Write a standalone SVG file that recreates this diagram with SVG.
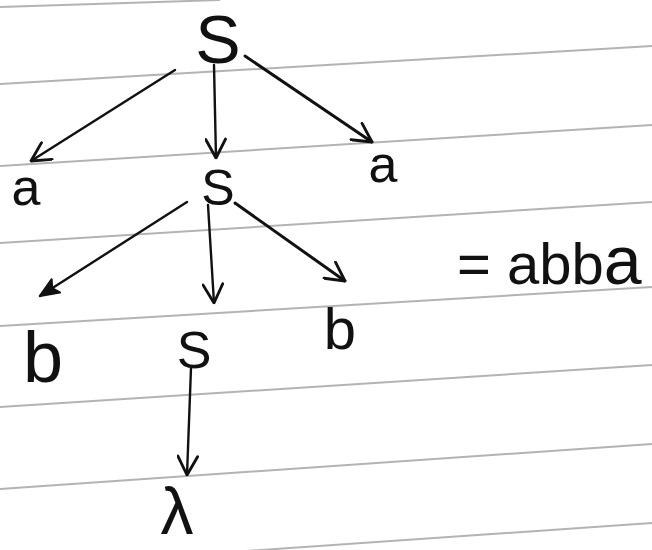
<svg xmlns="http://www.w3.org/2000/svg" width="652" height="550" viewBox="0 0 652 550">
<style>
.rule{stroke:#9a9a9a;stroke-width:2;fill:none;opacity:.75}
.edge{stroke:#111;stroke-width:2.4;fill:none;stroke-linecap:round}
.t{font-family:"Liberation Sans",Arial,sans-serif;fill:#111;text-anchor:middle}
</style>
<defs>
<marker id="open" viewBox="0 0 20 20" refX="19" refY="10" markerWidth="22" markerHeight="22" markerUnits="userSpaceOnUse" orient="auto">
<path d="M2,1 L19,10 L2,19" fill="none" stroke="#111" stroke-width="2.6" stroke-linecap="round" stroke-linejoin="round"/>
</marker>
<marker id="filled" viewBox="0 0 20 20" refX="19" refY="10" markerWidth="22" markerHeight="22" markerUnits="userSpaceOnUse" orient="auto">
<path d="M2,3 L19,10 L2,17 L6,10 Z" fill="#111" stroke="#111" stroke-width="2" stroke-linejoin="round"/>
</marker>
</defs>
<rect width="652" height="550" fill="#fff"/>
<g id="ruling">
<path class="rule" d="M0,7 L220,0"/>
<path class="rule" d="M0,84 L652,46"/>
<path class="rule" d="M0,166 L652,125"/>
<path class="rule" d="M0,243 L652,202"/>
<path class="rule" d="M0,326 L652,287"/>
<path class="rule" d="M0,407 L652,365"/>
<path class="rule" d="M0,489 L652,444"/>
<path class="rule" d="M0,568 L652,523"/>
</g>
<g id="connectors">
<line class="edge" x1="175" y1="70" x2="31" y2="161" marker-end="url(#open)"/>
<line class="edge" x1="214" y1="65" x2="216" y2="158" marker-end="url(#open)"/>
<line class="edge" x1="245" y1="56" x2="372" y2="142" marker-end="url(#open)" style="stroke-width:3"/>
<line class="edge" x1="187" y1="202" x2="40" y2="296" marker-end="url(#filled)"/>
<line class="edge" x1="208" y1="205" x2="214" y2="303" marker-end="url(#open)"/>
<line class="edge" x1="235" y1="203" x2="345" y2="281" marker-end="url(#open)" style="stroke-width:3"/>
<line class="edge" x1="191" y1="368" x2="187" y2="475" marker-end="url(#open)"/>
</g>
<g id="node-S-root"><text class="t" x="218" y="63" font-size="68">S</text></g>
<g id="node-a-left"><text class="t" x="26" y="205" font-size="52">a</text></g>
<g id="node-S-mid"><text class="t" x="218" y="205" font-size="50">S</text></g>
<g id="node-a-right"><text class="t" x="383" y="182" font-size="52">a</text></g>
<g id="node-b-left"><text class="t" x="43" y="382" font-size="72">b</text></g>
<g id="node-S-low"><text class="t" x="194" y="368" font-size="52">S</text></g>
<g id="node-b-right"><text class="t" x="340" y="349" font-size="58">b</text></g>
<g id="node-lambda"><text class="t" x="177" y="534" font-size="66">λ</text></g>
<g id="result"><text x="457" y="284" font-family="'Liberation Sans',Arial,sans-serif" font-size="58" fill="#111">= abb<tspan font-size="68">a</tspan></text></g>
</svg>
